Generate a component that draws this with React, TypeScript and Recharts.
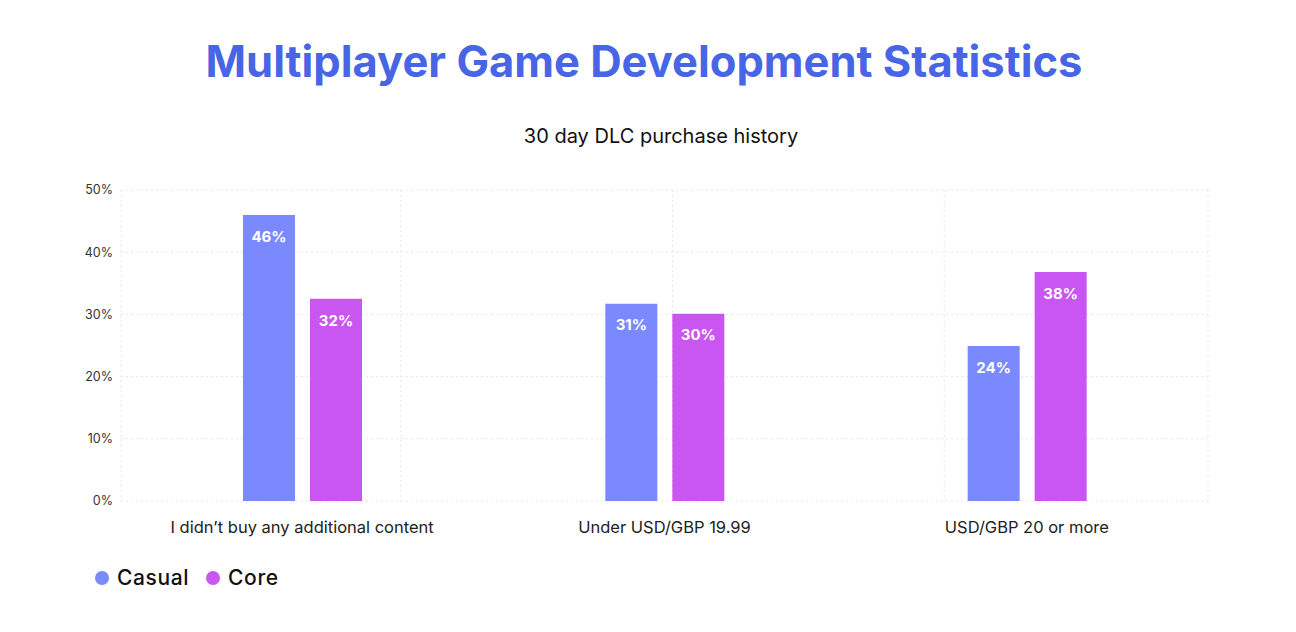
import { Bar, BarChart, CartesianGrid, LabelList, XAxis, YAxis } from 'recharts';

const BLUE = '#7b89fe';
const PURPLE = '#c956f1';
const TITLE = '#4865e6';

const categories = ['I didn\u2019t buy any additional content', 'Under USD/GBP 19.99', 'USD/GBP 20 or more'];
const casual = [46, 31.7, 24.9];
const core = [32.5, 30.1, 36.8];
const casualLabels = ['46%', '31%', '24%'];
const coreLabels = ['32%', '30%', '38%'];
const yTicks = [0, 10, 20, 30, 40, 50];

const series = [
  { key: 'casual', name: 'Casual', color: BLUE, label: 'casualLabel' },
  { key: 'core', name: 'Core', color: PURPLE, label: 'coreLabel' },
];

const data = categories.map((c, i) => ({
  name: c,
  casual: casual[i],
  core: core[i],
  casualLabel: casualLabels[i],
  coreLabel: coreLabels[i],
}));

const font = 'Inter, "Noto Sans", sans-serif';

export default function App() {
  return (
    <div style={{ position: 'relative', width: 1280, height: 616, fontFamily: font, background: '#fff' }}>
      <div
        style={{
          position: 'absolute',
          top: 27,
          left: -4,
          width: 1280,
          textAlign: 'center',
          fontSize: 43.5,
          fontWeight: 700,
          color: TITLE,
        }}
      >
        Multiplayer Game Development Statistics
      </div>
      <div style={{ position: 'absolute', top: 116, left: 13, width: 1280, textAlign: 'center', fontSize: 20, color: '#111' }}>
        30 day DLC purchase history
      </div>
      <div style={{ position: 'absolute', top: 170, left: 0 }}>
        <BarChart
          width={1280}
          height={363}
          data={data}
          margin={{ top: 12, right: 80, left: 0, bottom: 0 }}
          barSize={52}
          barGap={15}
        >
          <CartesianGrid
            stroke="#e6e6e6"
            strokeDasharray="2 3"
            verticalCoordinatesGenerator={({ offset }: any) =>
              [0, 1, 2, 3, 4].map((k) => offset.left + (offset.width * k) / 4 + (k > 0 && k < 4 ? 8 : 0))
            }
          />
          <XAxis
            dataKey="name"
            axisLine={false}
            tickLine={false}
            tickMargin={14}
            height={40}
            tick={{ fontSize: 16.5, fill: '#222', fontFamily: font }}
            interval={0}
          />
          <YAxis
            width={113}
            domain={[0, 50]}
            ticks={yTicks}
            axisLine={false}
            tickLine={false}
            tickFormatter={(v) => `${v}%`}
            tick={{ fontSize: 12.5, fill: '#333', fontFamily: font }}
          />
          {series.map((s) => (
            <Bar key={s.key} dataKey={s.key} name={s.name} fill={s.color} isAnimationActive={false}>
              <LabelList
                dataKey={s.label}
                position="insideTop"
                offset={16}
                fill="#fff"
                style={{ fontSize: 15, fontWeight: 700, fontFamily: font }}
              />
            </Bar>
          ))}
        </BarChart>
      </div>
      <div style={{ position: 'absolute', top: 557, left: 87, display: 'flex', alignItems: 'center', gap: 17 }}>
        {series.map((s) => (
          <div key={s.key} style={{ display: 'flex', alignItems: 'center', gap: 8 }}>
            <span style={{ width: 14, height: 14, borderRadius: 7, background: s.color, display: 'inline-block' }} />
            <span style={{ fontSize: 21, fontWeight: 500, color: '#111', letterSpacing: 0.6 }}>{s.name}</span>
          </div>
        ))}
      </div>
    </div>
  );
}
